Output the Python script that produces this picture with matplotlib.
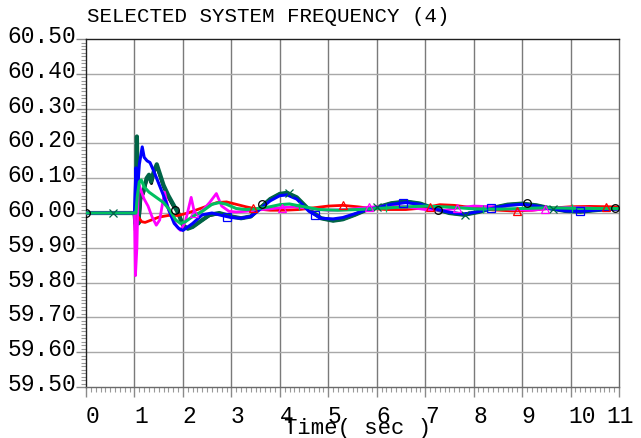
"""
SELECTED SYSTEM FREQUENCY (4) - 발전기 주파수 응답 재현.
"""
import numpy as np
import matplotlib
matplotlib.use('Agg')
import matplotlib.pyplot as plt
from matplotlib.ticker import MultipleLocator, FixedLocator
from matplotlib.transforms import ScaledTranslation

plt.rcParams['font.family'] = ['Liberation Mono', 'DejaVu Sans Mono']

# ---- data ----
t_black = [0, 1.0, 1.02, 1.04, 1.06, 1.09, 1.13, 1.18, 1.25, 1.30, 1.35, 1.40, 1.46, 1.53,
           1.60, 1.70, 1.80, 1.90, 2.0, 2.1, 2.2, 2.35, 2.55, 2.75, 3.0, 3.2, 3.4, 3.6,
           3.8, 4.0, 4.15, 4.35, 4.6, 4.85, 5.1, 5.3, 5.55, 5.8, 6.0, 6.3, 6.6, 6.9, 7.2,
           7.5, 7.8, 8.1, 8.4, 8.7, 9.0, 9.3, 9.6, 9.9, 10.2, 10.5, 10.8, 11.0]
f_black = [60.0, 60.0, 59.95, 60.0, 60.17, 59.97, 60.04, 60.055, 60.095, 60.105, 60.085,
           60.115, 60.135, 60.105, 60.075, 60.045, 60.02, 60.005, 59.965, 59.955, 59.96,
           59.975, 59.993, 59.998, 59.99, 59.985, 59.99, 60.017, 60.04, 60.055, 60.057,
           60.044, 60.01, 59.985, 59.978, 59.982, 59.995, 60.01, 60.016, 60.028, 60.033,
           60.027, 60.012, 60.0, 59.995, 60.003, 60.015, 60.024, 60.027, 60.022, 60.013,
           60.006, 60.004, 60.008, 60.012, 60.013]

t_dkgreen = [0, 1.0, 1.02, 1.05, 1.08, 1.12, 1.18, 1.25, 1.30, 1.34, 1.40, 1.46, 1.53,
             1.60, 1.70, 1.80, 1.90, 2.0, 2.1, 2.2, 2.35, 2.55, 2.75, 3.0, 3.2, 3.4, 3.6,
             3.8, 4.0, 4.15, 4.35, 4.6, 4.85, 5.1, 5.3, 5.55, 5.8, 6.0, 6.3, 6.6, 6.9, 7.2,
             7.5, 7.8, 8.1, 8.4, 8.7, 9.0, 9.3, 9.6, 9.9, 10.2, 10.5, 10.8, 11.0]
f_dkgreen = [60.0, 60.0, 59.97, 60.22, 59.97, 60.05, 60.06, 60.10, 60.11, 60.09, 60.12,
             60.14, 60.11, 60.08, 60.05, 60.025, 60.0, 59.965, 59.955, 59.96, 59.975,
             59.995, 60.0, 59.99, 59.985, 59.99, 60.015, 60.04, 60.055, 60.058, 60.045,
             60.01, 59.985, 59.978, 59.982, 59.995, 60.01, 60.016, 60.028, 60.033, 60.027,
             60.012, 60.0, 59.995, 60.003, 60.015, 60.024, 60.027, 60.022, 60.013, 60.006,
             60.004, 60.008, 60.012, 60.013]

t_red = [0, 1.0, 1.03, 1.07, 1.15, 1.22, 1.35, 1.5, 1.7, 1.9, 2.1, 2.3, 2.5, 2.7, 2.9,
         3.1, 3.3, 3.5, 3.8, 4.1, 4.4, 4.7, 5.0, 5.3, 5.6, 5.9, 6.2, 6.6, 7.0, 7.3, 7.6,
         8.0, 8.4, 8.8, 9.2, 9.6, 10.0, 10.4, 10.8, 11.0]
f_red = [60.0, 60.0, 59.99, 59.99, 59.975, 59.973, 59.98, 59.988, 59.993, 59.993, 60.0,
         60.01, 60.02, 60.03, 60.032, 60.025, 60.018, 60.012, 60.008, 60.008, 60.01,
         60.015, 60.02, 60.022, 60.018, 60.013, 60.01, 60.01, 60.015, 60.024, 60.022,
         60.015, 60.009, 60.006, 60.008, 60.014, 60.018, 60.019, 60.018, 60.017]

t_magenta = [0, 1.0, 1.02, 1.05, 1.08, 1.12, 1.20, 1.28, 1.36, 1.45, 1.52, 1.62, 1.70,
             1.78, 1.88, 1.95, 2.05, 2.17, 2.24, 2.30, 2.42, 2.55, 2.69, 2.80, 2.95, 3.1,
             3.3, 3.5, 3.8, 4.0, 4.3, 4.6, 5.0, 5.4, 5.8, 6.2, 6.6, 7.0, 7.4, 7.7, 8.0,
             8.4, 8.8, 9.2, 9.5, 9.9, 10.3, 10.7, 11.0]
f_magenta = [60.0, 60.0, 59.82, 59.90, 60.09, 60.07, 60.04, 60.02, 59.99, 59.965, 59.98,
             60.06, 60.01, 59.985, 59.96, 59.95, 59.975, 60.045, 60.0, 59.995, 60.01,
             60.03, 60.056, 60.02, 60.005, 60.003, 60.005, 60.008, 60.012, 60.015, 60.018,
             60.013, 60.008, 60.01, 60.016, 60.02, 60.018, 60.01, 60.008, 60.015, 60.02,
             60.018, 60.01, 60.008, 60.012, 60.016, 60.015, 60.012, 60.012]

t_blue = [0, 1.0, 1.03, 1.06, 1.10, 1.16, 1.20, 1.26, 1.32, 1.40, 1.50, 1.60, 1.72, 1.82,
          1.92, 2.0, 2.1, 2.2, 2.4, 2.6, 2.8, 3.0, 3.2, 3.4, 3.6, 3.8, 4.0, 4.15, 4.35,
          4.6, 4.85, 5.1, 5.3, 5.55, 5.8, 6.0, 6.3, 6.6, 6.9, 7.2, 7.5, 7.8, 8.1, 8.4,
          8.7, 9.0, 9.3, 9.6, 9.9, 10.2, 10.5, 10.8, 11.0]
f_blue = [60.0, 60.0, 60.13, 60.06, 60.14, 60.19, 60.16, 60.15, 60.145, 60.12, 60.085,
          60.05, 60.005, 59.97, 59.955, 59.95, 59.96, 59.97, 59.995, 60.0, 59.993, 59.987,
          59.985, 59.99, 60.012, 60.035, 60.05, 60.052, 60.04, 60.005, 59.985, 59.983,
          59.987, 59.998, 60.01, 60.015, 60.025, 60.03, 60.025, 60.012, 60.002, 59.997,
          60.004, 60.014, 60.022, 60.025, 60.02, 60.012, 60.006, 60.005, 60.008, 60.011,
          60.012]

t_green = [0, 1.0, 1.03, 1.06, 1.10, 1.14, 1.20, 1.30, 1.45, 1.60, 1.72, 1.85, 1.95, 2.05,
           2.2, 2.4, 2.6, 2.75, 2.9, 3.1, 3.3, 3.5, 3.8, 4.0, 4.2, 4.5, 4.8, 5.2, 5.6,
           6.0, 6.5, 7.0, 7.5, 8.0, 8.5, 9.0, 9.5, 10.0, 10.5, 11.0]
f_green = [60.0, 60.0, 60.0, 60.05, 60.09, 60.095, 60.075, 60.06, 60.045, 60.03, 60.01,
           59.98, 59.97, 59.975, 59.99, 60.005, 60.025, 60.03, 60.025, 60.013, 60.01,
           60.012, 60.018, 60.024, 60.026, 60.018, 60.01, 60.008, 60.01, 60.013, 60.017,
           60.02, 60.017, 60.012, 60.011, 60.013, 60.015, 60.014, 60.013, 60.013]

# 마커 위치
mk_black_t = [0, 1.84, 3.63, 7.27, 9.1, 10.92]
mk_black_f = [60.0, 60.008, 60.025, 60.008, 60.028, 60.015]
mk_dkgreen_t = [0.55, 4.19, 6.0, 7.82, 9.64]
mk_dkgreen_f = [60.0, 60.058, 60.016, 59.995, 60.012]
mk_red_t = [3.45, 5.3, 7.1, 8.9, 10.73]
mk_red_f = [60.013, 60.022, 60.018, 60.006, 60.018]
mk_magenta_t = [2.22, 4.04, 5.83, 7.65, 9.47]
mk_magenta_f = [60.0, 60.015, 60.016, 60.014, 60.012]
mk_blue_t = [2.91, 4.73, 6.55, 8.36, 10.2]
mk_blue_f = [59.988, 59.995, 60.03, 60.014, 60.005]
mk_green_t = [4.4, 6.2, 8.2, 10.02]
mk_green_f = [60.02, 60.015, 60.012, 60.014]

x_ticks = list(range(0, 12))
x_labels = [str(v) for v in x_ticks]
y_ticks = [59.5, 59.6, 59.7, 59.8, 59.9, 60.0, 60.1, 60.2, 60.3, 60.4, 60.5]
y_labels = ['%.2f' % v for v in y_ticks]

series = [
    (t_black, f_black, mk_black_t, mk_black_f, '#000000', 'o', 2.2),
    (t_dkgreen, f_dkgreen, mk_dkgreen_t, mk_dkgreen_f, '#006446', 'x', 3.0),
    (t_red, f_red, mk_red_t, mk_red_f, '#ff0000', '^', 2.0),
    (t_magenta, f_magenta, mk_magenta_t, mk_magenta_f, '#ff00ff', '^', 2.0),
    (t_blue, f_blue, mk_blue_t, mk_blue_f, '#0000ff', 's', 2.2),
    (t_green, f_green, mk_green_t, mk_green_f, '#00c060', '+', 2.2),
]


def main():
    fig = plt.figure(figsize=(6.41, 4.38), dpi=100)
    fig.patch.set_facecolor('white')
    ax = fig.add_axes([0.1342, 0.1164, 0.8315, 0.7945])

    # 격자 (세로는 진하게, 가로는 옅게)
    for v in x_ticks[1:-1]:
        ax.axvline(v, color='#7a7a7a', lw=1.0, zorder=1)
    for v in y_ticks[1:-1]:
        ax.axhline(v, color='#a8a8a8', lw=1.0, zorder=1)

    for t, f, mt, mf, col, mk, lw in series:
        ax.plot(t, f, color=col, lw=lw, zorder=3, solid_joinstyle='round')
        ax.plot(mt, mf, ls='none', marker=mk, ms=5.5, mfc='none', mec=col,
                mew=0.9, zorder=4)

    ax.set_xlim(0, 11)
    ax.set_ylim(59.5, 60.5)

    ax.xaxis.set_major_locator(FixedLocator(x_ticks))
    ax.xaxis.set_minor_locator(MultipleLocator(0.1))
    ax.yaxis.set_major_locator(FixedLocator(y_ticks))
    ax.yaxis.set_minor_locator(MultipleLocator(0.01))
    ax.set_xticklabels(x_labels)
    ax.set_yticklabels(y_labels)

    ax.tick_params(axis='both', which='major', direction='out', length=7.2,
                   width=1.0, color='#8a8a8a', labelsize=16.5)
    ax.tick_params(axis='both', which='minor', direction='out', length=3.6,
                   width=0.8, color='#9a9a9a')
    ax.tick_params(axis='y', which='major', pad=0)
    ax.tick_params(axis='x', which='major', pad=6)

    # 눈금 라벨 위치 미세 조정 (원본처럼 오른쪽으로 치우침)
    x_shift = [6.5] * 10 + [12, 1]
    for lab, dx in zip(ax.get_xticklabels(), x_shift):
        lab.set_transform(lab.get_transform() +
                          ScaledTranslation(dx / 100, 0, fig.dpi_scale_trans))
    for lab in ax.get_yticklabels():
        lab.set_transform(lab.get_transform() +
                          ScaledTranslation(0, 5 / 100, fig.dpi_scale_trans))

    for side in ['left', 'top']:
        ax.spines[side].set_color('#202020')
    for side in ['right', 'bottom']:
        ax.spines[side].set_color('#6a6a6a')
    for sp in ax.spines.values():
        sp.set_linewidth(1.0)

    fig.text(87 / 641, 1 - 17 / 438, 'SELECTED SYSTEM FREQUENCY (4)',
             fontsize=15, ha='left', va='center')
    fig.text(358 / 641, 1 - 434 / 438, 'Time( sec )',
             fontsize=16, ha='center', va='baseline')

    fig.savefig('out.png', dpi=100, facecolor='white')
    plt.close(fig)


if __name__ == '__main__':
    main()
